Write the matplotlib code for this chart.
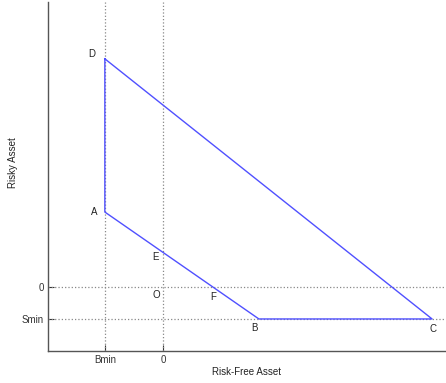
import matplotlib.pyplot as plt

# corner points of the region (Bmin=-1, Smin=-1 in plot units)
pt_names = ['D', 'A', 'B', 'C']
pt_x = [-1.0, -1.0, 1.655, 4.64]
pt_y = [7.125, 2.34, -1.0, -1.0]

# point labels and where they sit
lab_names = ['D', 'A', 'E', 'O', 'F', 'B', 'C']
lab_x = [-1.22, -1.19, -0.12, -0.12, 0.86, 1.57, 4.66]
lab_y = [7.28, 2.34, 0.94, -0.25, -0.31, -1.28, -1.31]

x_ticks = [-1, 0]
x_tick_labels = ['Bmin', '0']
y_ticks = [-1, 0]
y_tick_labels = ['Smin', '0']

plt.rcParams['font.family'] = ['Liberation Sans', 'DejaVu Sans']

fig = plt.figure(figsize=(4.46, 3.83), dpi=100)
ax = fig.add_axes([0.1076, 0.0836, 0.8924, 0.9112])

# dotted reference lines
for xv in x_ticks:
    ax.axvline(xv, color='#888888', linestyle=':', linewidth=0.9)
for yv in y_ticks:
    ax.axhline(yv, color='#888888', linestyle=':', linewidth=0.9)

# closed polygon D-A-B-C
ax.plot(pt_x + [pt_x[0]], pt_y + [pt_y[0]], color='#5050ff', linewidth=1.0)

for name, tx, ty in zip(lab_names, lab_x, lab_y):
    ax.text(tx, ty, name, fontsize=7, color='#222222', ha='center', va='center')

ax.set_xlim(-1.98, 4.88)
ax.set_ylim(-2.0, 8.9)
ax.set_xticks(x_ticks)
ax.set_xticklabels(x_tick_labels)
ax.set_yticks(y_ticks)
ax.set_yticklabels(y_tick_labels)
ax.tick_params(direction='in', length=4, width=0.8, labelsize=7,
               colors='#333333', pad=3)

ax.spines['top'].set_visible(False)
ax.spines['right'].set_visible(False)
for s in ['left', 'bottom']:
    ax.spines[s].set_color('#555555')
    ax.spines[s].set_linewidth(1.0)

ax.set_xlabel('Risk-Free Asset', fontsize=7, color='#222222', labelpad=1)
ax.set_ylabel('Risky Asset', fontsize=7, color='#222222')
ax.yaxis.set_label_coords(-0.075, 0.54)

fig.savefig('out.png', dpi=100)
